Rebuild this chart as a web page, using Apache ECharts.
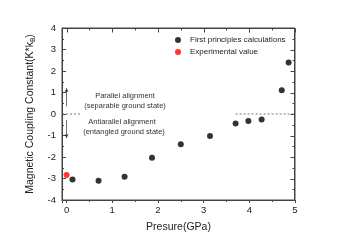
<!DOCTYPE html>
<html><head><meta charset="utf-8">
<script src="https://cdn.jsdelivr.net/npm/echarts@6/dist/echarts.min.js"></script>
<style>html,body{margin:0;padding:0;background:#fff}#c{width:343px;height:240px}</style>
</head><body><div id="c"></div>
<script>
// Data
var calcPressure = [0.13, 0.70, 1.27, 1.87, 2.50, 3.14, 3.70, 3.98, 4.27, 4.71, 4.86];
var calcCoupling = [-3.05, -3.10, -2.92, -2.03, -1.41, -1.02, -0.44, -0.33, -0.25, 1.11, 2.39];
var expPressure = [0.0];
var expCoupling = [-2.84];
var xTicks = [0, 0.5, 1, 1.5, 2, 2.5, 3, 3.5, 4, 4.5, 5];
var yTicks = [-4, -3.5, -3, -2.5, -2, -1.5, -1, -0.5, 0, 0.5, 1, 1.5, 2, 2.5, 3, 3.5, 4];
var dashLeft = [[-0.1, 0], [0.32, 0]];
var dashRight = [[3.7, 0], [5, 0]];
var arrowUp = [[0, 0.35], [0, 1.2]];
var arrowDown = [[0, -0.28], [0, -1.12]];

var F = 'Liberation Sans, Arial, sans-serif';
var chart = echarts.init(document.getElementById('c'), null, {renderer: 'canvas'});
function zip(a, b) { return a.map(function (v, i) { return [v, b[i]]; }); }
var LC = '#444';
function txt(s, x, y) {
  return {type: 'text', z: 10, style: {text: s, x: x, y: y, fontFamily: F, fontSize: 7.5, fill: '#333', align: 'center', verticalAlign: 'middle'}};
}
var texts = [
  txt('Parallel alignment', 125, 96),
  txt('(separable ground state)', 125, 106),
  txt('Antiarallel alignment', 122, 122),
  txt('(entangled ground state)', 124, 132)
];
var option = {
  animation: false,
  grid: {left: 62, right: 48, top: 28, bottom: 40, show: true, borderColor: LC, borderWidth: 1, backgroundColor: 'transparent'},
  legend: {
    orient: 'vertical', left: 170, top: 31, itemWidth: 6, itemHeight: 6, itemGap: 4,
    icon: 'circle',
    textStyle: {fontFamily: F, fontSize: 8, color: '#222', padding: [0, 0, 0, 4]},
    data: ['First principles calculations', 'Experimental value']
  },
  xAxis: [
    {type: 'value', min: -0.1, max: 5, position: 'bottom',
     name: 'Presure(GPa)', nameLocation: 'middle', nameGap: 22,
     nameTextStyle: {fontFamily: F, fontSize: 10.5, color: '#222'},
     axisLine: {show: true, onZero: false, lineStyle: {color: LC, width: 1}},
     splitLine: {show: false},
     axisTick: {show: true, inside: false, length: 3, lineStyle: {color: LC}},
     minorTick: {show: true, splitNumber: 2, length: 2, lineStyle: {color: LC}},
     axisLabel: {show: true, showMinLabel: false, fontFamily: F, fontSize: 9.5, color: '#222', margin: 5}}
  ],
  yAxis: [
    {type: 'value', min: -4, max: 4, interval: 1, position: 'left',
     name: '{a|Magnetic Coupling Constant(K*k}{b|B}{a|)}', nameLocation: 'middle', nameGap: 24,
     nameTextStyle: {fontFamily: F, fontSize: 10.5, color: '#222',
       rich: {a: {fontFamily: F, fontSize: 10.5, color: '#222'}, b: {fontFamily: F, fontSize: 6.5, color: '#222', verticalAlign: 'bottom', padding: [6, 0, 0, 0]}}},
     axisLine: {show: true, onZero: false, lineStyle: {color: LC, width: 1}},
     splitLine: {show: false},
     axisTick: {show: true, inside: true, length: 4, lineStyle: {color: LC}},
     minorTick: {show: true, splitNumber: 2, length: 2, lineStyle: {color: LC}},
     axisLabel: {fontFamily: F, fontSize: 9.5, color: '#222', margin: 6}}
  ],
  series: [
    {name: 'dashL', type: 'line', data: dashLeft, symbol: 'none', silent: true,
     lineStyle: {color: '#555', width: 0.8, type: [2, 2]},
     markLine: {silent: true, symbol: ['none', 'arrow'], symbolSize: [3, 4],
       lineStyle: {color: '#333', width: 0.7, type: 'solid'}, label: {show: false},
       data: [
         [{coord: arrowUp[0]}, {coord: arrowUp[1]}],
         [{coord: arrowDown[0]}, {coord: arrowDown[1]}]
       ]}},
    {name: 'dashR', type: 'line', data: dashRight, symbol: 'none', silent: true,
     lineStyle: {color: '#555', width: 0.8, type: [2, 2]}},
    {name: 'First principles calculations', type: 'scatter', data: zip(calcPressure, calcCoupling),
     symbol: 'circle', symbolSize: 6, itemStyle: {color: '#000'}},
    {name: 'Experimental value', type: 'scatter', data: zip(expPressure, expCoupling),
     symbol: 'circle', symbolSize: 6, itemStyle: {color: '#ff0000'}}
  ],
  graphic: texts
};
chart.setOption(option);

// Frame (top/right) with inward ticks, positioned through the chart's own scales
try {
  var tl = chart.convertToPixel({xAxisIndex: 0, yAxisIndex: 0}, [-0.1, 4]);
  var br = chart.convertToPixel({xAxisIndex: 0, yAxisIndex: 0}, [5, -4]);
  var L = Math.round(tl[0]) + 0.5, T = Math.round(tl[1]) + 0.5;
  var R = Math.round(br[0]) - 0.5, B = Math.round(br[1]) - 0.5;
  var els = texts.slice();
  var st = {stroke: LC, lineWidth: 1};
  els.push({type: 'line', silent: true, z: 5, shape: {x1: L, y1: T, x2: R, y2: T}, style: st});
  els.push({type: 'line', silent: true, z: 5, shape: {x1: R, y1: T, x2: R, y2: B}, style: st});
  xTicks.forEach(function (v) {
    var px = Math.round(chart.convertToPixel({xAxisIndex: 0}, v)) + 0.5;
    var len = (v % 1 === 0) ? 4 : 2;
    els.push({type: 'line', silent: true, z: 5, shape: {x1: px, y1: T, x2: px, y2: T + len}, style: st});
  });
  yTicks.forEach(function (v) {
    var py = Math.round(chart.convertToPixel({yAxisIndex: 0}, v)) + 0.5;
    var len = (v % 1 === 0) ? 4 : 2;
    els.push({type: 'line', silent: true, z: 5, shape: {x1: R, y1: py, x2: R - len, y2: py}, style: st});
  });
  chart.setOption({graphic: els});
} catch (e) {}
</script></body></html>
